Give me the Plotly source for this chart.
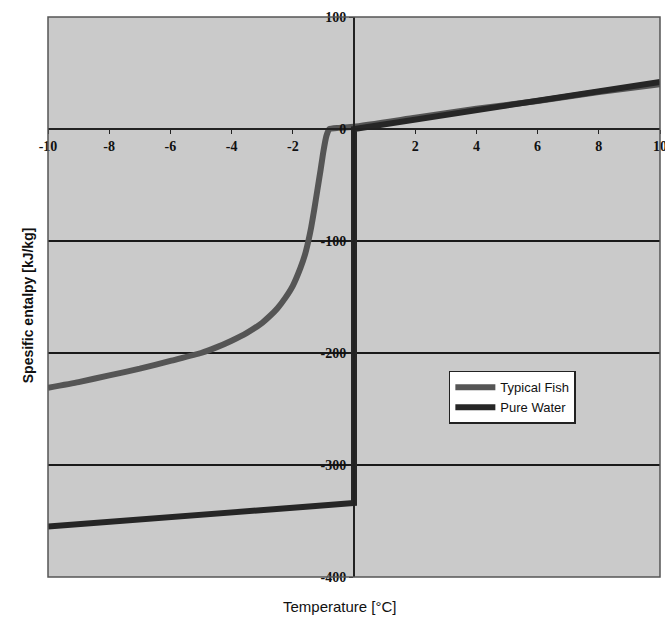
import plotly.graph_objects as go

# Specific enthalpy vs temperature
fish_temp = [-10, -9, -8, -7, -6, -5, -4.5, -4, -3.5, -3, -2.75, -2.5, -2.25, -2, -1.75, -1.6,
             -1.5, -1.4, -1.3, -1.2, -1.1, -1.0, -0.9, -0.8, -0.5, 0, 2, 4, 6, 8, 10]
fish_enthalpy = [-231, -226, -220, -214, -207, -200, -195, -189, -182, -173, -167, -160, -151, -140, -124, -112,
                 -101, -88, -72, -55, -38, -20, -6, 0, 1, 2, 10, 18, 25, 33, 40]

water_temp = [-10, 0, 0, 10]
water_enthalpy = [-355, -334, 0, 42]

x_ticks = [-10, -8, -6, -4, -2, 0, 2, 4, 6, 8, 10]
x_tick_text = ["-10", "-8", "-6", "-4", "-2", "", "2", "4", "6", "8", "10"]
y_ticks = [100, 0, -100, -200, -300, -400]
y_tick_text = ["100", "0", "-100", "-200", "-300", "-400"]

fig = go.Figure()
fig.add_trace(go.Scatter(x=fish_temp, y=fish_enthalpy, mode="lines", name="Typical Fish",
                         line=dict(color="#555555", width=6, shape="spline", smoothing=0.5)))
fig.add_trace(go.Scatter(x=water_temp, y=water_enthalpy, mode="lines", name="Pure Water",
                         line=dict(color="#262626", width=6)))

tick_font = dict(family="Liberation Serif", size=14, color="#111111", weight="bold")

fig.update_layout(
    width=665, height=621,
    margin=dict(l=48, r=5, t=17, b=44),
    paper_bgcolor="white",
    plot_bgcolor="#cacaca",
    showlegend=True,
    legend=dict(x=0.655, y=0.368, xanchor="left", yanchor="top",
                bgcolor="white", bordercolor="#222222", borderwidth=1.5,
                font=dict(family="Liberation Sans", size=13, color="#111111"),
                itemwidth=40, tracegroupgap=2),
    xaxis=dict(range=[-10, 10], anchor="free", position=0.8, automargin=False,
               tickvals=x_ticks, ticktext=x_tick_text, tickfont=tick_font,
               ticklabeloverflow="allow",
               ticks="outside", ticklen=4, tickcolor="#222222",
               showline=True, linecolor="#222222", linewidth=2,
               showgrid=False, zeroline=False),
    yaxis=dict(range=[-400, 100], anchor="free", position=0.5, automargin=False,
               tickvals=y_ticks, ticktext=y_tick_text, tickfont=tick_font,
               ticklabeloverflow="allow",
               ticks="outside", ticklen=4, tickcolor="#222222",
               showline=True, linecolor="#222222", linewidth=2,
               showgrid=True, gridcolor="#1a1a1a", gridwidth=1.5,
               zeroline=False),
    shapes=[dict(type="rect", xref="paper", yref="paper", x0=0, x1=1, y0=0, y1=1,
                 line=dict(color="#555555", width=1.5), layer="above")],
    annotations=[
        dict(text="<b>Spesific entalpy [kJ/kg]</b>", xref="paper", yref="paper",
             x=-0.05, y=0.486, textangle=-90, showarrow=False,
             font=dict(family="Liberation Sans", size=14, color="#111111")),
        dict(text="Temperature [°C]", xref="paper", yref="paper",
             x=0.477, y=-0.034, yanchor="top", showarrow=False,
             font=dict(family="Liberation Sans", size=15, color="#111111")),
    ],
)

fig.write_html("out.html")
